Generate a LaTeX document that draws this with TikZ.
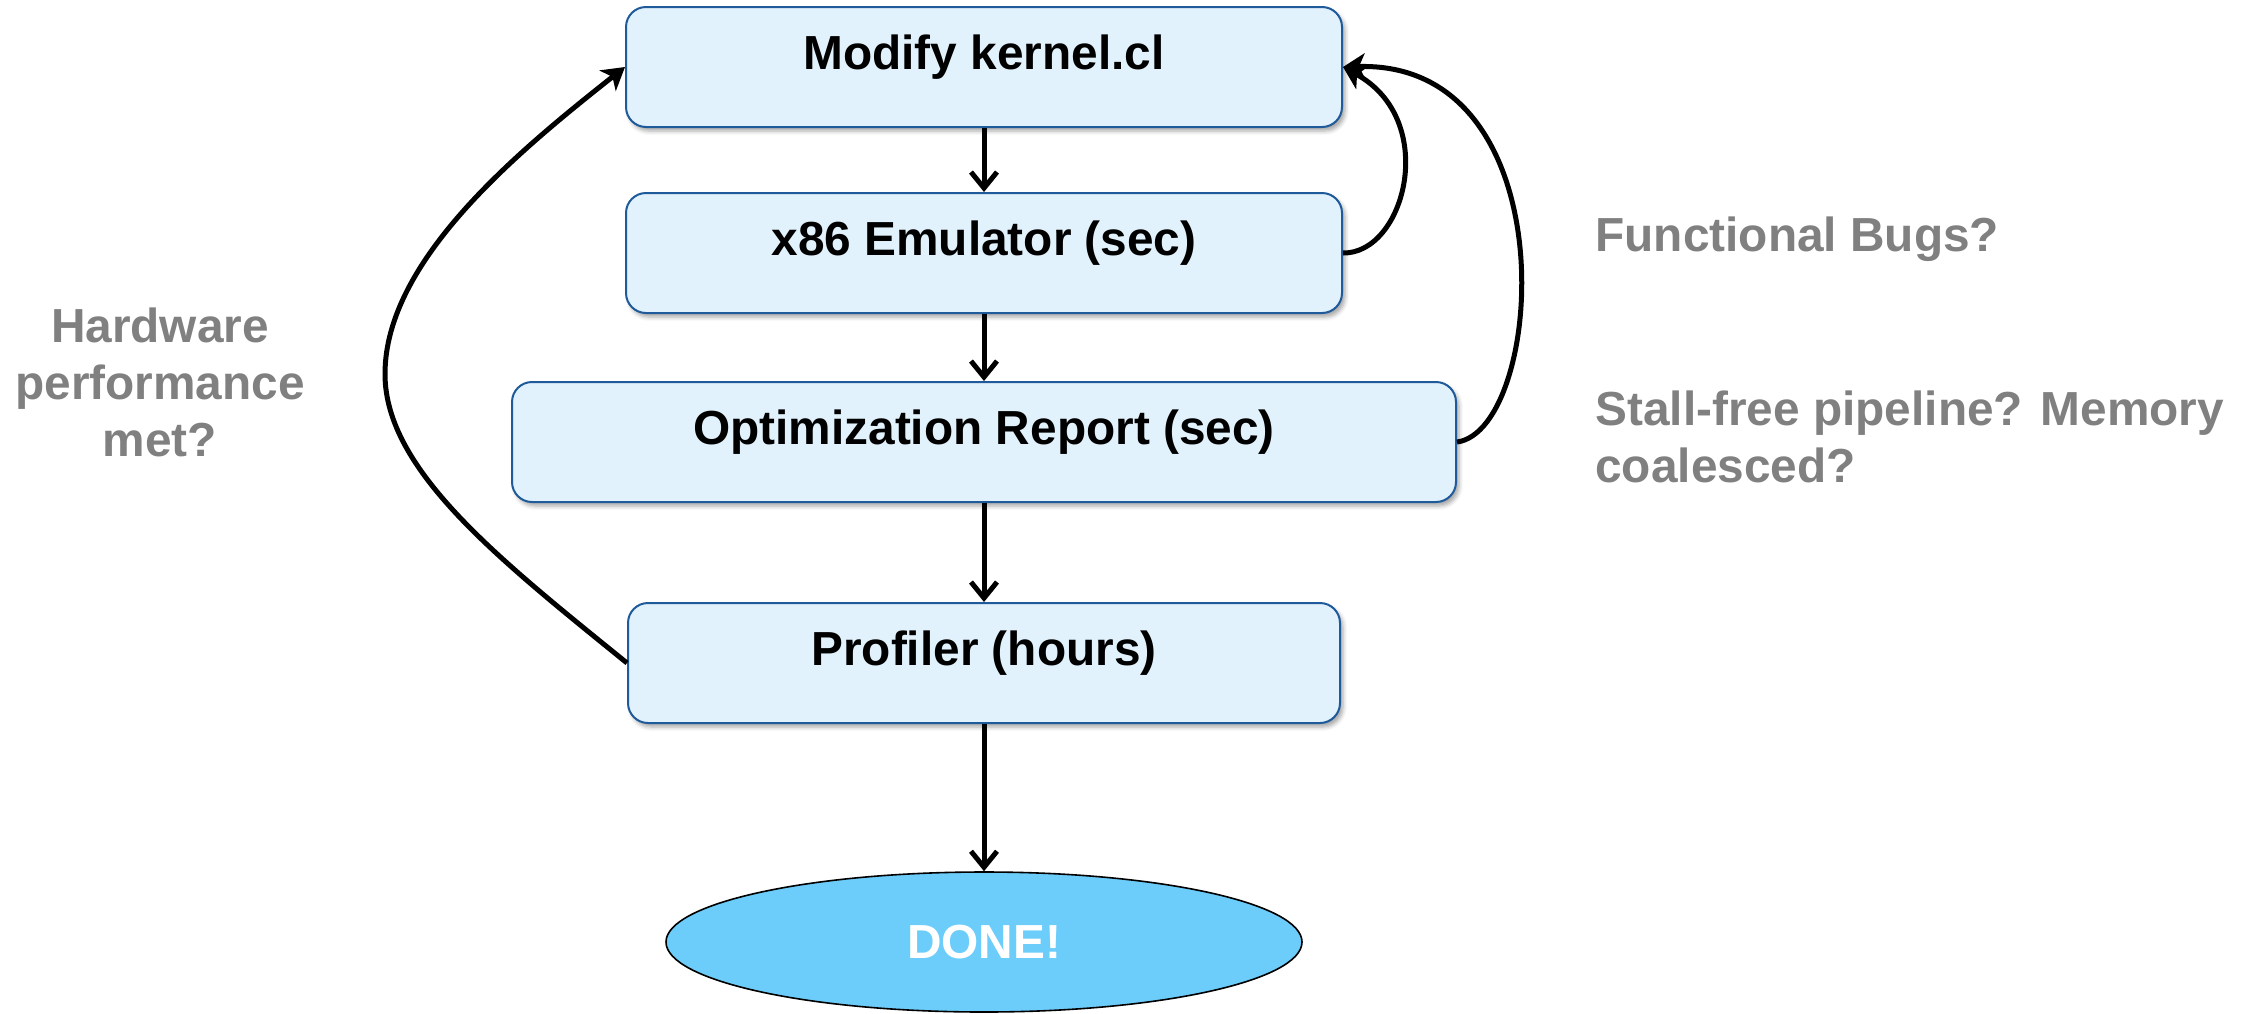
\documentclass[tikz,border=0pt]{standalone}
\usepackage{fontspec}
\setmainfont{Liberation Sans}
\usetikzlibrary{arrows.meta,shapes.geometric,shadows.blur}

\definecolor{boxfill}{HTML}{E1F2FC}
\definecolor{boxline}{HTML}{1F5A9A}
\definecolor{donefill}{HTML}{6DCDFA}
\definecolor{notegray}{HTML}{808080}

\newcommand\flowfont{\fontsize{23.9pt}{28.5pt}\selectfont\bfseries}

\tikzset{
  stepbox/.style={draw=boxline, line width=1pt, fill=boxfill,
    rounded corners=10pt, minimum height=60pt, inner sep=0pt,
    text height=17pt, text depth=15pt, font=\flowfont,
    blur shadow={shadow xshift=1.5pt, shadow yshift=-2pt,
      shadow blur radius=2pt, shadow opacity=35}},
  donebox/.style={ellipse, draw=black, line width=0.8pt, fill=donefill,
    minimum width=318pt, minimum height=70pt, inner sep=0pt,
    text=white, font=\flowfont},
  note/.style={text=notegray, font=\flowfont, inner sep=0pt},
  flow/.style={line width=2.5pt, -{Straight Barb[length=8pt,width=13pt]}},
  loop/.style={line width=2.5pt, -{Stealth[length=11pt,width=13pt,inset=3pt]}},
}

\begin{document}
\begin{tikzpicture}[x=0.5pt, y=-0.5pt]
  \useasboundingbox (0,0) rectangle (2253,1013);

  % process steps
  \node[stepbox, minimum width=358pt] (m) at (984,67)  {Modify kernel.cl};
  \node[stepbox, minimum width=358pt] (e) at (984,253) {x86 Emulator (sec)};
  \node[stepbox, minimum width=472pt] (o) at (984,442) {Optimization Report (sec)};
  \node[stepbox, minimum width=356pt] (p) at (984,663) {Profiler (hours)};
  \node[donebox] (d) at (984,942) {DONE!};

  % questions asked at each loop
  \node[note, anchor=base west] (qf) at (1595,251) {Functional Bugs?};
  \node[note, anchor=north west, align=left] (qs) at (1595,390)
    {Stall-free pipeline? Memory\\coalesced?};
  \node[note, anchor=north, align=center] (qh) at (160,307)
    {Hardware\\performance\\met?};

  % main flow
  \draw[flow] (m) -- (e);
  \draw[flow] (e) -- (o);
  \draw[flow] (o) -- (p);
  \draw[flow] (p) -- (d);

  % feedback loops
  \draw[loop] (e.east) .. controls (1405,254) and (1440,120) .. (m.east);
  \draw[loop] (o.east) .. controls (1545,430) and (1570,60) .. (m.east);
  \draw[loop] (p.west) .. controls (500,560) and (385,470) .. (385,374)
    .. controls (385,260) and (520,150) .. (m.west);
\end{tikzpicture}
\end{document}
